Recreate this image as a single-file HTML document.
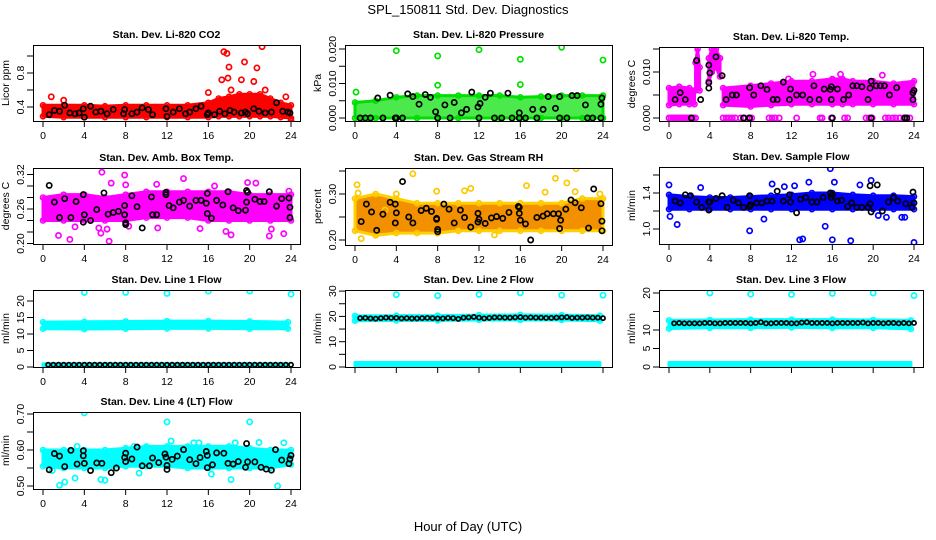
<!DOCTYPE html>
<html><head><meta charset="utf-8"><style>
html,body{margin:0;padding:0;background:#fff;}
svg{display:block;font-family:"Liberation Sans",sans-serif;}
</style></head><body>
<svg id="chart" width="936" height="540" viewBox="0 0 936 540">
<text x="468" y="14" text-anchor="middle" font-size="13">SPL_150811  Std. Dev. Diagnostics</text>
<text x="468" y="531" text-anchor="middle" font-size="13">Hour of Day (UTC)</text>
</svg>
<script>
// ---------- data ----------
const xTicks=[0,4,8,12,16,20,24];
// Panel 1 CO2
const co2BandHours=[0,2,4,6,8,10,12,14,16,17,18,19,20,21,22,23,24];
const co2BandLow=[0.29,0.28,0.28,0.28,0.28,0.28,0.28,0.28,0.28,0.29,0.29,0.29,0.29,0.29,0.29,0.28,0.27];
const co2BandHigh=[0.42,0.42,0.42,0.41,0.42,0.42,0.42,0.42,0.45,0.5,0.52,0.55,0.55,0.55,0.5,0.45,0.42];
const co2OutX=[17.5,17.8,21.2,19.5,20.7,18,17.9,17.3,18.2,19.2,20.4,21.5,16,23.5,0.8,2,24];
const co2OutY=[1.05,1.03,1.11,0.93,0.86,0.87,0.74,0.72,0.6,0.72,0.7,0.6,0.57,0.52,0.52,0.48,0.24];
const co2BlkX=[0.6,1.1,1.6,2.1,2.6,3.1,3.5,3.9,4,4.6,5.1,5.6,6.2,6.8,7.8,7.9,8.6,9.1,9.6,10.2,10.6,11.9,12,12.6,13.2,13.8,14.2,14.8,15.3,15.9,16,16.6,17.1,17.6,18.1,18.5,19.2,19.6,19.8,20.4,20.9,21.5,22.1,22.6,23.2,23.7,23.9];
const co2BlkY=[.31,.36,.35,.42,.33,.32,.33,.38,.28,.41,.34,.35,.32,.37,.32,.37,.32,.34,.39,.37,.31,.38,.29,.34,.38,.32,.34,.38,.41,.31,.33,.31,.35,.32,.36,.34,.33,.34,.32,.38,.35,.33,.34,.45,.35,.34,.33];
// Panel 2 Pressure
const prBandHours=[0,2,4,6,8,10,12,14,16,18,20,22,24];
const prBandLow=[0,0,0,0,0,0,0,0,0,0,0,0,0];
const prBandHigh=[0.0045,0.005,0.006,0.0065,0.0065,0.0065,0.0065,0.0065,0.006,0.0062,0.0065,0.0065,0.0065];
const prOutX=[0.1,4,8,8,12,16,16,20,24];
const prOutY=[0.0075,0.0195,0.018,0.0095,0.0198,0.017,0.0097,0.0205,0.0168];
const prBlkX=[0.5,1,1.5,2.7,3.9,4.0,4.6,8,9.2,12,13.5,14.2,15.2,15.9,16.5,17.6,19.8,20.5,22.5,23,23.8,2.2,3.4,5.1,5.6,6.2,6.8,7.3,7.8,8.7,9.6,10.3,10.8,11.3,11.9,12.1,12.6,13.1,14.8,15.9,17.2,18.2,18.7,19.4,19.8,21,21.5,22.3,23.9,23.8];
const prBlkY=[0,0,0,0,0,0,0,0,0,0,0,0,0,0,0,0,0,0,0,0,0,.0058,.0066,.007,.0062,.004,.0068,.006,.0018,.0038,.0045,.0015,.0025,.0075,.0032,.0042,.006,.0072,.0072,.0015,.0025,.0025,.0062,.0028,.0062,.0065,.0065,.0038,.0058,.004];
// Panel 3 Li-820 Temp
const tmpBandHours=[[0,1,2,2.5],[2.6,2.8,3.0],[3.9,4.2,4.6,5.0],[5.3,8,10,12,14,16,17,18,20,22,24]];
const tmpBandLow=[[.0028,.003,.003,.003],[.006,.007,.006],[.008,.01,.011,.009],[.0028,.0025,.0028,.003,.003,.003,.003,.003,.003,.003,.003]];
const tmpBandHigh=[[.0065,.0068,.0065,.006],[.012,.015,.011],[.013,.015,.015,.013],[.0065,.007,.0075,.008,.008,.0085,.0085,.008,.008,.0075,.008]];
const tmpOutX=[0,0.2,0.4,0.6,0.8,1,1.2,1.4,1.6,1.8,2,2.2,2.4,2.6,5.3,5.6,5.9,6.2,6.5,7,7.4,7.8,8.1,9.8,10.1,10.4,10.8,12.5,14.8,15,15.9,17.2,17.5,19.3,19.6,19.9,21.2,21.5,21.9,22.2,22.6,23,23.3,23.6,14.1,16.8,20.9,11.7];
const tmpOutY=[0,0,0,0,0,0,0,0,0,0,0,0,0,0,0,0,0,0,0,0,0,0,0,0,0,0,0,0,0,0,0,0,0,0,0,0,0,0,0,0,0,0,0,0,.0095,.0095,.0093,.0085];
const tmpBlkX=[0.6,1.1,1.6,2.2,3.1,2.7,3.9,4,3.9,3.9,4.6,5.2,5.6,6.2,6.6,7.3,7.9,7.9,8.3,9,9.6,10.2,10.6,11.2,11.8,11.9,12.5,13.1,13.8,14.2,14.7,15.2,15.8,15.9,15.9,16,16.5,17.1,17.6,18,18.4,18.9,19.5,19.7,19.8,19.8,20.3,20.7,21.1,21.6,22.3,23.1,23.3,23.9,23.9,24];
const tmpBlkY=[.004,.0055,.004,0,.004,.0125,.0115,.0098,.0077,.0065,.0133,.0092,.004,.005,.005,0,0,.0066,.005,.007,.0062,.004,.004,.0078,.004,.0063,.005,.005,.004,.007,.004,.0063,.0062,.0068,.004,0,.0063,.004,.005,.007,.007,.0068,.004,.0065,.008,0,.007,.007,.007,.005,.0066,0,0,.004,.0055,.006];
// Panel 4 Amb Box Temp
const ambBandHours=[0,2,4,6,8,10,12,14,16,18,20,22,24];
const ambBandLow=[.24,.24,.24,.24,.24,.245,.245,.245,.24,.24,.24,.24,.24];
const ambBandHigh=[.28,.285,.285,.28,.285,.29,.29,.29,.29,.29,.285,.285,.285];
const ambOutX=[1.5,2.6,3.1,5.4,5.6,5.7,6.2,6.4,6.6,7.9,8,8.3,11.1,11,13.6,15.2,16.6,17.7,18.2,19.8,20.6,21.9,22.1,23.3,23.8];
const ambOutY=[.214,.207,.229,.227,.218,.324,.225,.204,.305,.319,.302,.23,.227,.303,.313,.226,.3,.221,.215,.306,.305,.213,.225,.217,.291];
const ambBlkX=[0.6,1.1,1.6,2.1,2.7,3.2,3.9,3.9,4,4.6,5.2,5.9,6.3,6.8,7.3,7.9,7.9,8,8,8.6,9.1,9.6,10.5,10.6,11,11.9,11.9,12.2,12.6,13.2,13.6,14.2,14.8,15.3,15.8,15.9,15.9,16.3,16.8,17.4,17.9,18.4,18.9,19.6,19.7,19.7,19.8,20.5,21,21.4,21.9,22.6,23.1,23.8,23.9,23.9];
const ambBlkY=[.301,.272,.245,.278,.245,.273,.285,.237,.25,.24,.259,.288,.251,.254,.256,.266,.25,.233,.236,.283,.264,.227,.281,.25,.25,.289,.285,.266,.262,.272,.275,.265,.275,.275,.27,.287,.252,.244,.275,.267,.29,.262,.257,.258,.272,.292,.289,.277,.273,.273,.29,.265,.278,.279,.263,.245];
// Panel 5 Gas Stream RH
const rhBandHours=[0,2,4,6,8,10,12,14,16,18,20,22,24];
const rhBandLow=[.22,.21,.215,.215,.215,.22,.22,.22,.22,.22,.22,.22,.22];
const rhBandHigh=[.29,.3,.29,.28,.28,.28,.28,.28,.28,.28,.28,.29,.29];
const rhOutX=[0.2,0.3,0.6,2.9,4,5.6,7.9,8,10.6,11.2,13.5,16.6,18.4,19.4,20.5,21.4,21.3,23.7];
const rhOutY=[.32,.302,.203,.265,.3,.344,.306,.215,.307,.312,.211,.318,.304,.334,.324,.355,.305,.3];
const rhBlkX=[0.6,1.1,1.6,2.1,2.7,3.4,3.9,3.9,4,4.6,5.2,5.6,6.4,6.9,7.4,7.9,7.9,8,8,8.6,9.1,9.6,10.2,10.6,11.2,11.9,11.9,12,12.6,13.2,13.7,14.3,14.9,15.8,15.9,15.9,16,16.5,17,17.6,18.2,18.6,19.2,19.7,19.9,19.8,20.4,20.9,21.3,21.9,22.6,23.1,23.8,23.9,23.9];
const rhBlkY=[.24,.278,.261,.221,.256,.282,.278,.237,.259,.327,.25,.237,.264,.269,.262,.247,.245,.223,.218,.278,.267,.237,.265,.249,.228,.239,.258,.245,.236,.248,.251,.247,.26,.273,.271,.258,.243,.235,.2,.249,.252,.257,.257,.257,.243,.225,.267,.287,.281,.27,.226,.311,.279,.241,.22];
// Panel 6 Sample Flow
const sfBandHours=[0,2,4,6,8,10,12,14,16,18,20,22,24];
const sfBandLow=[1.22,1.22,1.22,1.22,1.22,1.22,1.22,1.22,1.22,1.22,1.22,1.22,1.22];
const sfBandHigh=[1.38,1.36,1.35,1.35,1.36,1.37,1.38,1.4,1.4,1.38,1.37,1.37,1.36];
const sfOutX=[0,0.1,0.8,3.1,7.9,9.3,10.1,11.3,12.3,12.8,13.1,13.7,15.3,15.8,16,16.2,17.8,18.7,19.8,20.5,21.3,22.8,23.1,24];
const sfOutY=[1.49,1.14,1.05,1.46,0.98,1.11,1.5,1.47,1.48,0.88,0.89,1.52,1.03,1.67,0.88,1.52,0.87,1.49,1.54,1.15,1.13,1.13,1.13,0.85];
const sfBlkX=[0.6,1.1,1.6,2.1,2.7,3.2,3.9,3.9,4,4.6,5.2,5.7,6.3,6.8,7.3,7.9,7.9,8,8.6,9.1,9.6,10.1,10.6,11.2,11.8,11.9,12.5,12.9,13.4,14,14.5,15.1,15.8,15.9,16,16.5,16.9,17.5,17.9,18.4,18.9,19.5,19.7,19.7,19.8,20.4,20.9,21.5,22,22.4,23.2,23.8,23.9,24];
const sfBlkY=[1.31,1.29,1.38,1.37,1.3,1.24,1.3,1.21,1.3,1.34,1.37,1.24,1.32,1.29,1.24,1.37,1.25,1.27,1.29,1.29,1.31,1.31,1.42,1.31,1.38,1.3,1.18,1.33,1.35,1.3,1.3,1.35,1.4,1.35,1.38,1.31,1.32,1.25,1.29,1.24,1.24,1.24,1.48,1.28,1.19,1.49,1.2,1.3,1.35,1.31,1.28,1.24,1.41,1.29];
// Line flows (shared black-point hours)
const lineBlkHours=[0.5,1,1.5,2,2.5,3,3.5,4,4.5,5,5.5,6,6.5,7,7.5,8,8.5,9,9.5,10,10.5,11,11.5,12,12.5,13,13.5,14,14.5,15,15.5,16,16.5,17,17.5,18,18.5,19,19.5,20,20.5,21,21.5,22,22.5,23,23.5,24];
const lineBandHours=[0,4,8,12,16,20,23.7];
const lineOutX=[4,8,12,16,20,24];
// Line 1
const l1BandLow=[11.6,11.5,11.6,11.7,11.7,11.6,11.6];
const l1BandHigh=[13.6,13.7,13.8,13.9,13.9,13.8,13.6];
const l1ZeroLow=[0.3,0.3,0.3,0.3,0.3,0.3,0.3];
const l1ZeroHigh=[1.0,1.0,1.0,1.0,1.0,1.0,1.0];
const l1OutY=[22.6,22.6,22.3,23,23,22.1];
const l1BlkY=[0.7,0.7,0.7,0.7,0.7,0.7,0.7,0.7,0.7,0.7,0.7,0.7,0.7,0.7,0.7,0.7,0.7,0.7,0.7,0.7,0.7,0.7,0.7,0.7,0.7,0.7,0.7,0.7,0.7,0.7,0.7,0.7,0.7,0.7,0.7,0.7,0.7,0.7,0.7,0.7,0.7,0.7,0.7,0.7,0.7,0.7,0.7,0.7];
// Line 2
const l2BandLow=[18.3,18.4,18.4,18.6,18.6,18.6,18.3];
const l2BandHigh=[20.2,20.3,20.3,20.5,20.6,20.5,20.3];
const l2ZeroLow=[0.3,0.3,0.3,0.3,0.3,0.3,0.3];
const l2ZeroHigh=[1.8,1.8,1.8,1.8,1.8,1.8,1.8];
const l2OutY=[28.6,28.2,28.7,29.3,28.4,28.4];
const l2BlkY=[19.3,19.4,19.2,19.1,19.3,19.5,19.4,19.4,19.2,19.3,19.2,19.2,19.3,19.4,19.3,19.2,19.2,19.4,19.3,19.0,19.5,19.6,19.8,19.5,19.2,19.4,19.6,19.6,19.5,19.5,19.6,19.7,19.5,19.6,19.5,19.5,19.4,19.4,19.5,19.6,19.7,19.4,19.5,19.5,19.6,19.5,19.5,19.3];
// Line 3
const l3BandLow=[10.4,10.6,10.6,10.7,10.6,10.6,10.3];
const l3BandHigh=[12.6,12.7,12.8,12.8,12.8,12.7,12.6];
const l3ZeroLow=[0.1,0.1,0.1,0.1,0.1,0.1,0.1];
const l3ZeroHigh=[1.2,1.2,1.2,1.2,1.2,1.2,1.2];
const l3OutY=[20,19.7,19.6,19.9,20,19.3];
const l3BlkY=[11.8,11.9,11.8,11.8,11.8,11.8,11.9,11.9,11.8,11.8,11.9,11.9,11.9,11.9,11.9,11.8,11.9,12.1,11.8,11.8,11.9,11.9,11.9,11.8,11.8,12,12.1,11.9,11.9,11.9,11.9,11.8,11.9,11.9,11.9,11.9,11.9,12,11.8,11.9,11.9,11.8,11.9,11.9,11.8,11.9,11.8,11.9];
// Line 4 (LT)
const l4BandHours=[0,2,4,6,8,10,12,14,16,18,20,22,24];
const l4BandLow=[.555,.55,.55,.55,.555,.555,.555,.55,.55,.55,.55,.55,.56];
const l4BandHigh=[.6,.6,.6,.6,.605,.61,.61,.61,.61,.61,.605,.6,.6];
const l4OutX=[0.9,1.6,2.1,3.1,3.3,4,5.6,6,8.8,9.3,12,12.4,14.6,15.1,16.3,18.2,18.6,20,20.9,22.7,23.3];
const l4OutY=[.543,.502,.511,.522,.61,.703,.518,.516,.61,.536,.678,.625,.62,.62,.533,.518,.62,.678,.621,.5,.62];
const l4BlkX=[0.6,1.1,1.6,2.1,2.7,3.3,3.9,3.9,4,4.6,5.2,5.7,6.6,7.1,7.9,8,8,8.6,9.1,9.6,10.3,10.6,11.2,11.8,11.9,12,12,12.5,13,13.6,14.2,14.8,15.2,15.8,15.9,15.9,16.4,16.8,17.5,17.9,18.4,18.9,19.6,19.7,19.8,20.5,21.1,21.6,22.1,22.5,23.1,23.8,23.9,24];
const l4BlkY=[.545,.59,.583,.554,.599,.561,.598,.584,.563,.543,.564,.563,.537,.55,.579,.591,.568,.575,.608,.556,.556,.578,.565,.589,.58,.557,.546,.574,.583,.601,.573,.562,.579,.596,.551,.585,.559,.592,.591,.563,.561,.568,.552,.618,.567,.567,.552,.547,.544,.601,.572,.562,.575,.585];

// ---------- drawing ----------
const NS="http://www.w3.org/2000/svg";
const svg=document.getElementById('chart');
function mk(tag,attrs,parent){const e=document.createElementNS(NS,tag);for(const k in attrs)e.setAttribute(k,attrs[k]);(parent||svg).appendChild(e);return e;}

function panel(o){
  const g=mk('g',{});
  
  
  const x0=o.box[0],x1=o.box[1],y0=o.box[2],y1=o.box[3];
  const xs=h=>x0+10+h*(x1-x0-19)/24;
  const ys=v=>o.yRef-(v-o.vRef)*o.k;
  const br=o.br||2.6;
  const clip='clip-'+o.name;
  const cp=mk('clipPath',{id:clip},g);mk('rect',{x:x0,y:y0,width:x1-x0,height:y1-y0},cp);
  const plot=mk('g',{'clip-path':'url(#'+clip+')'},g);
  const t=mk('text',{x:(x0+x1)/2,y:y0-7,'text-anchor':'middle','font-size':'10.5','font-weight':'bold'},g);
  t.textContent=o.title;
  
  
  (o.bands||[]).forEach(b=>{
    let pts=b.h.map((h,i)=>xs(h)+','+ys(b.hi[i]));
    for(let i=b.h.length-1;i>=0;i--)pts.push(xs(b.h[i])+','+ys(b.lo[i]));
    const p=mk('polygon',{points:pts.join(' '),fill:b.fill||o.color,stroke:o.color,'stroke-width':'3','stroke-linejoin':'round','fill-opacity':b.op||1},plot);
    
    
    if(b.dots!==false){b.h.forEach((h,i)=>{
      [b.hi[i],b.lo[i]].forEach(v=>{const c=mk('circle',{cx:xs(h),cy:ys(v),r:2.5,fill:'none',stroke:o.edge||o.color,'stroke-width':1.6},plot);
      
      });
    });}
  });
  o.outX.forEach((h,i)=>{const c=mk('circle',{cx:xs(h),cy:ys(o.outY[i]),r:2.6,fill:'none',stroke:o.edge||o.color,'stroke-width':1.7},plot);
    
    });
  o.blkX.forEach((h,i)=>{const c=mk('circle',{cx:xs(h),cy:ys(o.blkY[i]),r:br,fill:'none',stroke:'#000','stroke-width':1.7},plot);
    
    });
  const r=mk('rect',{x:x0+0.5,y:y0+0.5,width:x1-x0,height:y1-y0,fill:'none',stroke:'#000','stroke-width':1},g);
  
  
  const xa=mk('g',{},g);
  
  
  mk('line',{x1:xs(0),x2:xs(24),y1:y1+0.5,y2:y1+0.5,stroke:'#000'},xa);
  xTicks.forEach(h=>{mk('line',{x1:xs(h),x2:xs(h),y1:y1,y2:y1+6,stroke:'#000'},xa);
    if(o.xLabels){const tx=mk('text',{x:xs(h),y:y1+18,'text-anchor':'middle','font-size':'10.5'},xa);tx.textContent=h;}});
  const ya=mk('g',{},g);
  
  
  mk('line',{x1:x0+0.5,x2:x0+0.5,y1:ys(o.ticks[0]),y2:ys(o.ticks[o.ticks.length-1]),stroke:'#000'},ya);
  o.ticks.forEach((v,i)=>{const y=ys(v);mk('line',{x1:x0-6,x2:x0,y1:y,y2:y,stroke:'#000'},ya);
    if(o.labels[i]){const tx=mk('text',{x:x0-9,y:y,'text-anchor':'middle','font-size':'10.5',transform:'rotate(-90 '+(x0-9)+' '+y+')'},ya);tx.textContent=o.labels[i];}});
  const yl=mk('text',{x:x0-24,y:(y0+y1)/2,'text-anchor':'middle','font-size':'10.5',transform:'rotate(-90 '+(x0-24)+' '+(y0+y1)/2+')'},g);
  yl.textContent=o.ylab;
  
  
}

const C1=[33,300],C2=[345,612],C3=[659,923];
panel({name:'panel-co2',title:'Stan. Dev. Li-820 CO2',box:[...C1,45,121],yRef:107,vRef:0.4,k:85,ticks:[0.4,0.6,0.8,1.0],labels:['0.4','','0.8',''],ylab:'Licor ppm',color:'#ff0000',xLabels:true,
 bands:[{h:co2BandHours,lo:co2BandLow,hi:co2BandHigh}],outX:co2OutX,outY:co2OutY,blkX:co2BlkX,blkY:co2BlkY});
panel({name:'panel-pressure',title:'Stan. Dev. Li-820 Pressure',box:[...C2,45,121],yRef:118,vRef:0,k:3450,ticks:[0,0.005,0.01,0.015,0.02],labels:['0.000','','0.010','','0.020'],ylab:'kPa',color:'#00e000',xLabels:true,
 bands:[{h:prBandHours,lo:prBandLow,hi:prBandHigh,op:0.7}],outX:prOutX,outY:prOutY,blkX:prBlkX,blkY:prBlkY});
panel({name:'panel-li820-temp',title:'Stan. Dev. Li-820 Temp.',box:[...C3,47,121],yRef:118,vRef:0,k:4600,ticks:[0,0.005,0.01,0.015],labels:['0.000','','0.010',''],ylab:'degrees C',color:'#ff00ff',xLabels:true,
 bands:tmpBandHours.map((h,i)=>({h:h,lo:tmpBandLow[i],hi:tmpBandHigh[i]})),outX:tmpOutX,outY:tmpOutY,blkX:tmpBlkX,blkY:tmpBlkY});
panel({name:'panel-amb-box-temp',title:'Stan. Dev. Amb. Box Temp.',box:[...C1,168,244],yRef:209,vRef:0.26,k:575,ticks:[.2,.22,.24,.26,.28,.3,.32],labels:['0.20','','','0.26','','','0.32'],ylab:'degrees C',color:'#ff00ff',xLabels:true,
 bands:[{h:ambBandHours,lo:ambBandLow,hi:ambBandHigh}],outX:ambOutX,outY:ambOutY,blkX:ambBlkX,blkY:ambBlkY});
panel({name:'panel-gas-rh',title:'Stan. Dev. Gas Stream RH',box:[...C2,168,245],yRef:217,vRef:0.25,k:460,ticks:[.2,.25,.3,.35],labels:['0.20','','0.30',''],ylab:'percent',color:'#ffd000',edge:'#ffc800',xLabels:true,
 bands:[{h:rhBandHours,lo:rhBandLow,hi:rhBandHigh,fill:'#f29000'}],outX:rhOutX,outY:rhOutY,blkX:rhBlkX,blkY:rhBlkY});
panel({name:'panel-sample-flow',title:'Stan. Dev. Sample Flow',box:[...C3,167,244],yRef:211,vRef:1.2,k:90,ticks:[1.0,1.2,1.4,1.6],labels:['1.0','','1.4',''],ylab:'ml/min',color:'#0000ff',xLabels:true,
 bands:[{h:sfBandHours,lo:sfBandLow,hi:sfBandHigh}],outX:sfOutX,outY:sfOutY,blkX:sfBlkX,blkY:sfBlkY});
panel({name:'panel-line1-flow',title:'Stan. Dev. Line 1 Flow',box:[...C1,290,367],yRef:367,vRef:0,k:3.3,ticks:[0,5,10,15,20],labels:['0','5','10','15','20'],ylab:'ml/min',color:'#00ffff',xLabels:true,br:2.1,
 bands:[{h:lineBandHours,lo:l1BandLow,hi:l1BandHigh},{h:lineBandHours,lo:l1ZeroLow,hi:l1ZeroHigh,dots:false}],outX:lineOutX,outY:l1OutY,blkX:lineBlkHours,blkY:l1BlkY});
panel({name:'panel-line2-flow',title:'Stan. Dev. Line 2 Flow',box:[...C2,290,367],yRef:367,vRef:0,k:2.53,ticks:[0,5,10,15,20,25,30],labels:['0','','10','','20','','30'],ylab:'ml/min',color:'#00ffff',xLabels:false,br:2.1,
 bands:[{h:lineBandHours,lo:l2BandLow,hi:l2BandHigh},{h:lineBandHours,lo:l2ZeroLow,hi:l2ZeroHigh,dots:false}],outX:lineOutX,outY:l2OutY,blkX:lineBlkHours,blkY:l2BlkY});
panel({name:'panel-line3-flow',title:'Stan. Dev. Line 3 Flow',box:[...C3,290,367],yRef:367,vRef:0,k:3.7,ticks:[0,5,10,15,20],labels:['0','5','10','','20'],ylab:'ml/min',color:'#00ffff',xLabels:false,br:2.1,
 bands:[{h:lineBandHours,lo:l3BandLow,hi:l3BandHigh},{h:lineBandHours,lo:l3ZeroLow,hi:l3ZeroHigh,dots:false}],outX:lineOutX,outY:l3OutY,blkX:lineBlkHours,blkY:l3BlkY});
panel({name:'panel-line4-flow',title:'Stan. Dev. Line 4 (LT) Flow',box:[...C1,412,489],yRef:486,vRef:0.5,k:360,ticks:[.5,.55,.6,.65,.7],labels:['0.50','','0.60','','0.70'],ylab:'ml/min',color:'#00ffff',xLabels:true,
 bands:[{h:l4BandHours,lo:l4BandLow,hi:l4BandHigh}],outX:l4OutX,outY:l4OutY,blkX:l4BlkX,blkY:l4BlkY});
</script>
</body></html>
